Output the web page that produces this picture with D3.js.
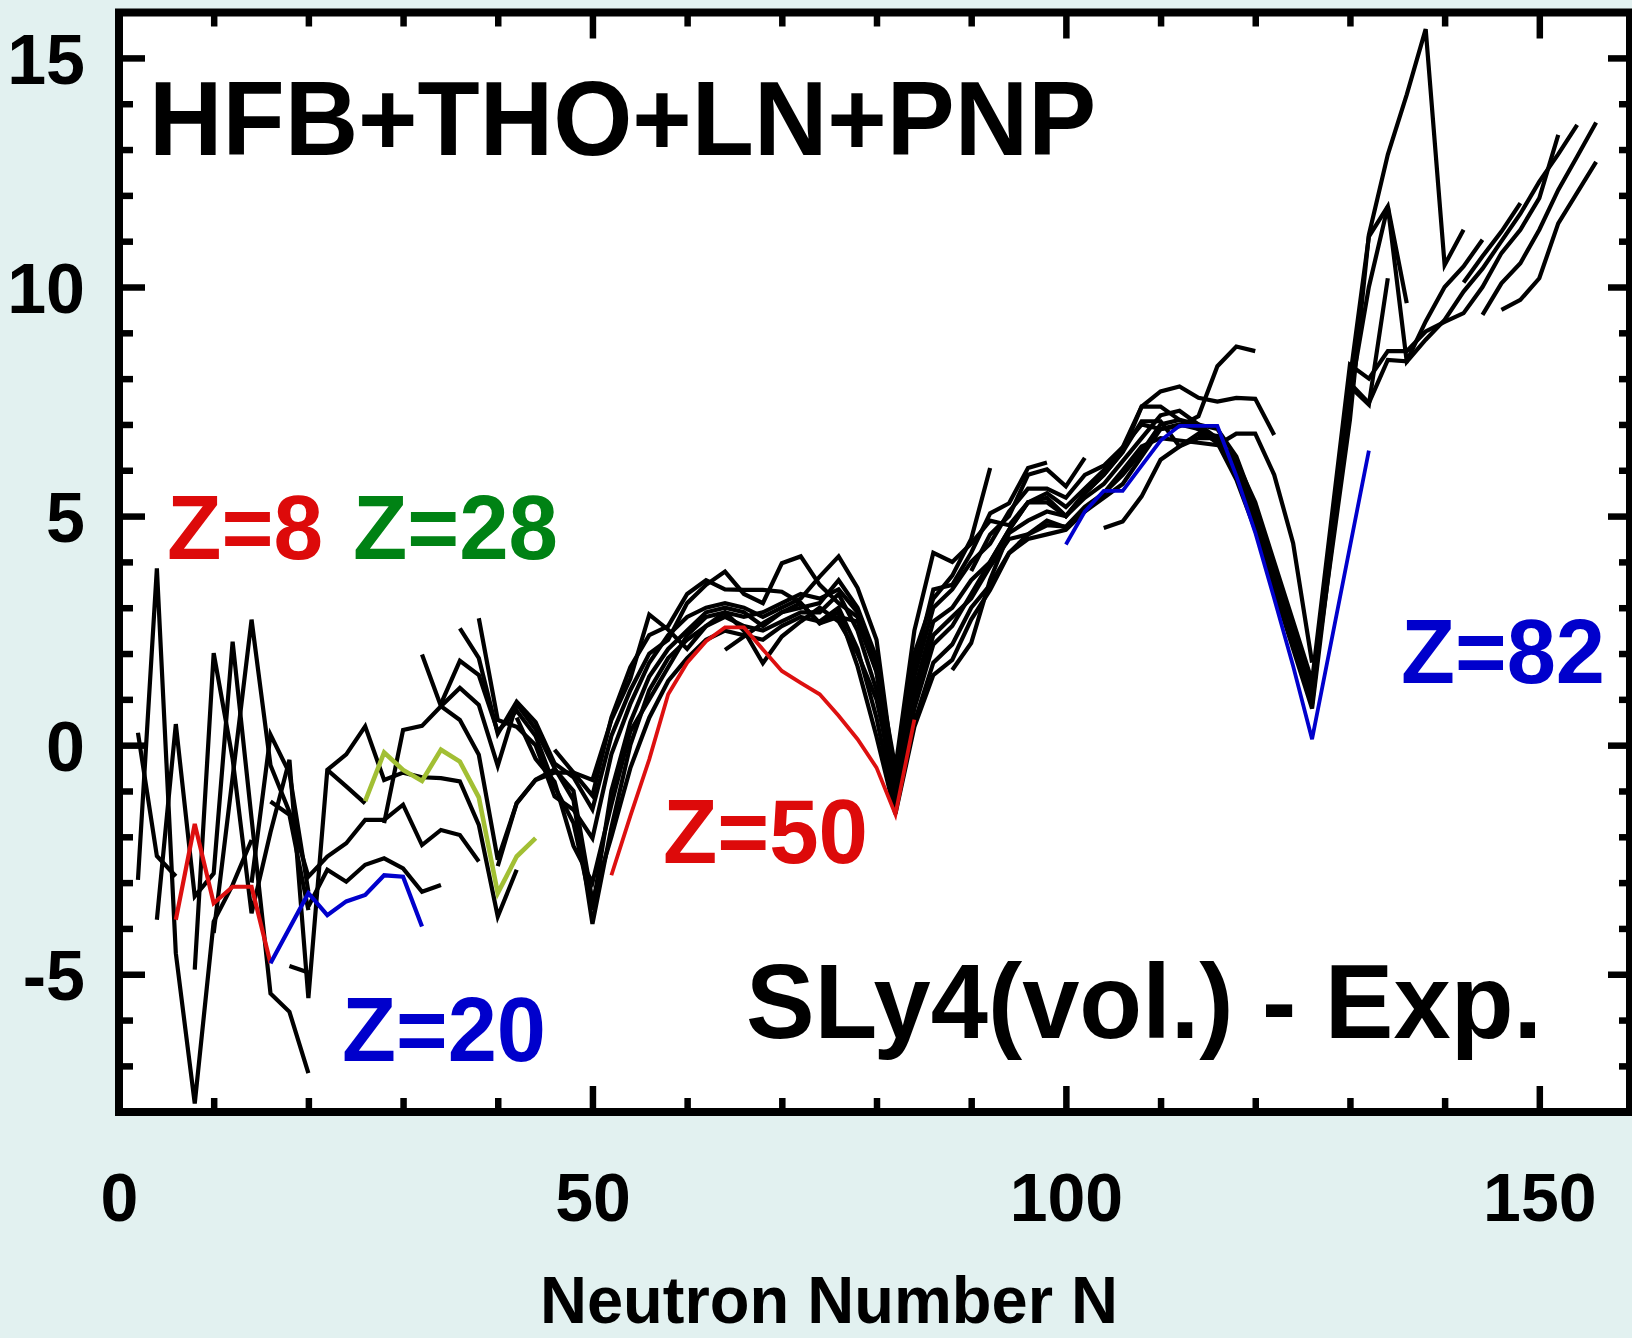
<!DOCTYPE html>
<html>
<head>
<meta charset="utf-8">
<script src="https://cdn.jsdelivr.net/npm/d3@7"></script>
<style>
  html, body { margin: 0; padding: 0; background: #e2f1f0; }
  svg { display: block; }
  text { font-family: "Liberation Sans", Arial, Helvetica, sans-serif; font-weight: bold; }
</style>
</head>
<body>
<svg id="chart" width="1632" height="1338"></svg>
<script>
// ---- Axis ticks ----
const xMajorTicks = [0, 50, 100, 150];
const xMinorTicks = [10, 20, 30, 40, 60, 70, 80, 90, 110, 120, 130, 140];
const yMajorTicks = [-5, 0, 5, 10, 15];
const yMinorTicks = [-8, -7, -6, -4, -3, -2, -1, 1, 2, 3, 4, 6, 7, 8, 9, 11, 12, 13, 14, 16];

// ---- Highlighted isotopic chains: [N, E(SLy4) - E(exp) in MeV] ----
const z8Chain  = [[6,-3.81],[8,-1.72],[10,-3.45],[12,-3.09],[14,-3.09],[16,-4.76]];
const z20Chain = [[16,-4.76],[20,-3.23],[22,-3.71],[24,-3.41],[26,-3.27],[28,-2.84],[30,-2.87],[32,-3.96]];
const z28Chain = [[26,-1.22],[28,-0.16],[30,-0.54],[32,-0.78],[34,-0.1],[36,-0.36],[38,-1.14],[40,-3.23],[42,-2.43],[44,-2.03]];
const z50Chain = [[52,-2.84],[54,-1.55],[56,-0.31],[58,1.11],[60,1.8],[62,2.27],[64,2.57],[66,2.57],[68,2.09],[70,1.62],[72,1.36],[74,1.11],[76,0.64],[78,0.13],[80,-0.49],[82,-1.51],[84,0.56]];
const z82Chain = [[100,4.38],[102,5.1],[104,5.55],[106,5.55],[108,6.1],[110,6.65],[112,6.97],[114,6.97],[116,6.97],[118,5.88],[120,4.64],[122,3.2],[124,1.73],[126,0.13],[132,6.43]];

// ---- Remaining isotopic chains (black) ----
const chainL1 = [[2,0.27],[4,-2.42],[6,-2.86]];
const chainL2 = [[2,-2.94],[4,3.86],[6,-4.54],[8,-7.82],[10,-3.85],[12,-3.05],[14,-2.07]];
const chainL3 = [[4,-3.81],[6,0.46],[8,-3.3],[10,-2.8],[12,2.26],[14,-1.6],[16,-5.42],[18,-5.82],[20,-7.16]];
const chainL4 = [[8,-4.9],[10,2.01],[12,-0.3],[14,-3.67],[16,-1.9],[18,-0.32],[20,-5.52],[22,-0.54],[24,-0.2],[26,0.41],[28,-0.76],[30,-0.6],[32,-0.7],[34,-0.72],[36,-0.79],[38,-1.74],[40,-3.74],[42,-2.72]];
const chainL5 = [[10,-4.1],[12,-0.7],[14,2.74],[16,-0.44],[18,-1.46],[20,-2.87],[22,-2.43],[24,-2.14],[26,-1.63],[28,-1.63],[30,-1.3],[32,-2.18],[34,-1.85],[36,-1.96],[38,-2.54]];
const chainL6 = [[14,-3.0],[16,0.23],[18,-0.61],[20,-3.2]];
const chainL7 = [[16,-1.23],[18,-1.52],[20,-3.6]];
const chainL8 = [[18,-4.82],[20,-4.96]];
const chainL9 = [[20,-3.52],[22,-2.72],[24,-2.98],[26,-2.61],[28,-2.47],[30,-2.69],[32,-3.2],[34,-3.05]];
const chainL10 = [[22,-0.54],[24,-0.9],[26,-1.27]];

const chainM1 = [[32,1.98],[34,0.85],[36,0.55],[38,-0.21],[40,-2.5],[42,-1.27],[44,-0.76],[46,-0.6],[48,-0.6],[50,-0.76],[52,0.55],[54,1.45],[56,2.85],[58,2.52],[60,2.1],[62,2.6],[64,2.9],[66,2.5],[68,1.79],[70,2.37],[72,2.7],[74,3.0],[76,2.7],[78,2.0],[80,1.0],[82,-0.9],[84,1.7],[86,3.4],[88,3.5],[90,4.2],[92,5.06],[94,5.28],[96,6.05],[98,6.17]];
const chainM2 = [[28,-1.7],[30,0.33],[32,0.42],[34,0.85],[36,1.25],[38,0.88],[40,-0.45],[42,0.9],[44,0.35],[46,-0.5],[48,-1.2],[50,-3.9],[52,-1.8],[54,0.0],[56,1.2],[58,1.9],[60,2.3],[62,2.6],[64,2.8],[66,2.6],[68,2.5],[70,2.7],[72,2.9],[74,2.9],[76,3.3],[78,2.5],[80,1.2],[82,-1.3],[84,0.8],[86,2.2],[88,2.6],[90,3.3],[92,4.0],[94,4.7],[96,5.3],[98,5.3],[100,5.0],[102,5.5],[104,5.9],[106,6.4],[108,7.07],[110,7.07],[112,6.52],[114,6.8],[116,6.75],[118,6.0],[120,4.9],[122,3.6],[124,2.2],[126,0.9],[130,8.0],[132,11.1],[134,11.76],[136,9.65]];
const chainM3 = [[34,0.9],[36,1.84],[38,1.53],[40,0.3],[42,0.75],[44,0.2],[46,-0.9],[48,-1.7],[50,-3.6],[52,-1.0],[54,0.5],[56,1.5],[58,2.1],[60,2.5],[62,2.9],[64,3.0],[66,2.9],[68,2.6],[70,2.9],[72,3.0],[74,3.1],[76,3.6],[78,3.0],[80,1.9],[82,-1.1],[84,1.2],[86,2.7],[88,3.0],[90,3.6],[92,4.0],[94,4.7],[96,5.3],[98,5.4],[100,5.0],[102,5.5],[104,5.9],[106,6.4],[108,7.39],[110,7.39],[112,7.1],[114,7.0],[116,6.9],[118,6.3],[120,5.2],[122,3.9],[124,2.5],[126,1.1],[130,7.1],[132,11.14],[134,12.89],[136,14.2],[138,15.63],[140,10.48],[142,11.25]];
const chainM4 = [[36,2.55],[38,1.9],[40,0.25],[42,0.95],[44,0.5],[46,-0.4],[48,-0.7],[50,-1.4],[52,0.2],[54,1.2],[56,2.0],[58,2.3],[60,3.1],[62,3.5],[64,3.79],[66,3.3],[68,3.1],[70,3.97],[72,4.12],[74,3.5],[76,3.1],[78,2.8],[80,1.8],[82,-0.5],[84,2.5],[86,4.2],[88,4.0],[90,4.4],[92,4.9],[94,4.8],[96,5.3],[98,5.5],[100,5.2],[102,5.6],[104,6.0],[106,6.5],[108,7.0],[110,6.9],[112,6.96],[114,7.18],[116,8.27],[118,8.7],[120,8.6]];
const chainM5 = [[38,2.77],[40,0.55],[42,0.4],[44,0.0],[46,-1.12],[48,-1.41],[50,-2.03],[52,-0.2],[54,0.9],[56,1.8],[58,2.4],[60,2.8],[62,3.0],[64,3.1],[66,3.0],[68,2.8],[70,3.0],[72,3.2],[74,3.68],[76,4.12],[78,3.43],[80,2.3],[82,-0.83],[84,1.5],[86,3.0],[88,3.4],[90,4.0],[92,4.4],[94,5.1],[96,5.6],[98,5.6],[100,5.4],[102,5.9],[104,6.1],[106,6.5],[108,7.39],[110,7.72],[112,7.83],[114,7.58],[116,7.5],[118,7.58],[120,7.56],[122,6.77]];
const chainM6 = [[40,-2.64],[42,-1.26],[44,-0.75],[46,-0.53],[48,-1.0],[50,-3.4],[52,-2.0],[54,-0.5],[56,0.6],[58,1.4],[60,1.9],[62,2.3],[64,2.5],[66,2.4],[68,2.3],[70,2.6],[72,2.8],[74,2.7],[76,3.0],[78,2.1],[80,0.6],[82,-1.4],[84,0.5],[86,1.8],[88,2.2],[90,3.0],[92,3.5],[94,4.2],[96,4.6],[98,4.9],[100,4.75],[102,5.1],[104,5.5],[106,5.9],[108,6.4],[110,7.0],[112,7.1],[114,6.9],[116,6.6],[118,6.0],[120,5.0],[122,3.7],[124,2.3],[126,1.0],[130,7.9],[132,7.47],[134,8.41],[136,8.38],[138,9.25],[140,10.0],[142,10.45],[144,11.03]];
const chainM7 = [[42,0.6],[44,-0.3],[46,-0.8],[48,-2.2],[50,-3.0],[52,-1.3],[54,0.3],[56,1.0],[58,1.7],[60,2.4],[62,2.8],[64,2.9],[66,2.8],[68,2.9],[70,3.1],[72,3.3],[74,3.2],[76,3.4],[78,2.9],[80,1.6],[82,-1.0],[84,1.0],[86,2.4],[88,2.8],[90,3.2],[92,3.9],[94,4.5],[96,4.6],[98,4.8],[100,4.77],[102,5.2],[104,5.5],[106,6.0],[108,6.52],[110,6.7],[112,6.65],[114,6.6],[116,6.55],[118,6.8],[120,6.8],[122,5.9],[124,4.41],[126,1.8]];
const chainD3 = [[46,-0.1],[48,-0.6],[50,-1.1],[52,0.6],[54,1.7],[56,2.4],[58,2.6],[60,3.3],[62,3.6],[64,3.4],[66,3.39],[68,3.39],[70,3.35],[72,3.1],[74,2.66],[76,2.8],[78,2.7],[80,1.6],[82,-0.8],[84,2.0],[86,3.2],[88,3.7],[90,4.5],[92,6.05]];
const chainD9 = [[64,2.08],[66,2.37],[68,2.66],[70,2.9],[72,3.1],[74,2.66],[76,2.9],[78,1.72],[80,0.19],[82,-1.5],[84,0.4],[86,1.53],[88,1.86],[90,2.74],[92,3.39],[94,4.19],[96,4.5],[98,4.6],[100,4.7],[102,5.1],[104,5.4],[106,5.7],[108,6.3],[110,6.9],[112,7.0],[114,6.9],[116,6.6],[118,5.8],[120,4.7],[122,3.4],[124,2.1],[126,0.8],[130,7.6],[132,10.0],[134,11.76],[136,8.37],[138,8.85],[140,9.28],[142,9.9],[144,10.4],[146,11.0],[148,11.6],[150,12.3],[152,12.9],[154,13.54]];
const chainH4 = [[90,3.8],[92,4.6],[94,5.0],[96,5.9],[98,6.02],[100,5.65],[102,6.27]];
const chainH10 = [[104,4.74],[106,4.88],[108,5.43],[110,6.23],[112,6.52],[114,6.7],[116,6.7],[118,6.1],[120,5.0],[122,3.8],[124,2.5],[126,1.2],[130,7.83],[132,7.43],[134,10.19]];
const chainH11 = [[88,1.64],[90,2.23],[92,3.61],[94,4.63],[96,4.9],[98,5.1],[100,5.0],[102,5.4],[104,5.7],[106,6.2],[108,6.7],[110,7.2],[112,7.3],[114,7.0],[116,6.7],[118,6.2],[120,5.3],[122,4.0],[124,2.7],[126,1.4],[130,8.3],[132,8.0],[134,8.6],[136,8.6],[138,9.03],[140,9.24],[142,9.43],[144,10.0],[146,10.74],[148,11.25],[150,11.94],[152,13.32]];
const chainR7 = [[144,9.39],[146,10.08],[148,10.52],[150,11.25],[152,12.12],[154,12.85],[156,13.59]];
const chainR8 = [[146,9.5],[148,9.72],[150,10.19],[152,11.39],[156,12.73]];
const chainR9 = [[142,10.1],[144,10.67],[146,11.21],[148,11.83]];

const blackChains = [chainL1, chainL2, chainL3, chainL4, chainL5, chainL6, chainL7, chainL8, chainL9, chainL10,
  chainM1, chainM2, chainM3, chainM4, chainM5, chainM6, chainM7, chainD3, chainD9,
  chainH4, chainH10, chainH11, chainR7, chainR8, chainR9];

// ---- Layout ----
const svg = d3.select('#chart');
const frame = { left: 119, right: 1630, top: 12.5, bottom: 1112 };
const x = d3.scaleLinear().domain([0, 160]).range([119, 1634]);
const y = d3.scaleLinear().domain([-8, 16]).range([1111.7, 12.1]);

svg.append('rect').attr('width', 1632).attr('height', 1338).attr('fill', '#e2f1f0');
svg.append('rect')
  .attr('x', frame.left).attr('y', frame.top)
  .attr('width', frame.right - frame.left).attr('height', frame.bottom - frame.top)
  .attr('fill', '#ffffff');

svg.append('clipPath').attr('id', 'plotClip')
  .append('rect')
  .attr('x', frame.left).attr('y', frame.top)
  .attr('width', frame.right - frame.left).attr('height', frame.bottom - frame.top);

const line = d3.line().x(d => x(d[0])).y(d => y(d[1]));
const plot = svg.append('g').attr('clip-path', 'url(#plotClip)');

plot.selectAll('path.chain')
  .data(blackChains)
  .join('path')
  .attr('class', 'chain')
  .attr('d', line)
  .attr('fill', 'none')
  .attr('stroke', '#000')
  .attr('stroke-width', 4.2)
  .attr('stroke-linejoin', 'miter');

const coloured = [
  { data: z28Chain, color: '#a2bf34', width: 4.6 },
  { data: z8Chain,  color: '#dd1010', width: 4.2 },
  { data: z20Chain, color: '#0000cc', width: 4.2 },
  { data: z50Chain, color: '#dd1010', width: 3.8 },
  { data: z82Chain, color: '#0000cc', width: 3.8 }
];
plot.selectAll('path.magic')
  .data(coloured)
  .join('path')
  .attr('class', 'magic')
  .attr('d', d => line(d.data))
  .attr('fill', 'none')
  .attr('stroke', d => d.color)
  .attr('stroke-width', d => d.width)
  .attr('stroke-linejoin', 'miter');

// ---- Axes (ticks point inward on all four sides) ----
function styleAxis(g, fontSize) {
  g.select('.domain').remove();
  g.selectAll('.tick line').attr('stroke', '#000').attr('stroke-width', 6.5);
  g.attr('font-family', '"Liberation Sans", Arial, Helvetica, sans-serif')
   .attr('font-size', fontSize || 10)
   .attr('font-weight', 'bold');
  g.selectAll('.tick text').attr('fill', '#000');
}
const plainNumber = d => String(d);

svg.append('g').attr('transform', `translate(0,${frame.bottom})`)
  .call(d3.axisBottom(x).tickValues(xMajorTicks).tickSize(-26).tickPadding(61).tickFormat(plainNumber))
  .call(g => styleAxis(g, 68));
svg.append('g').attr('transform', `translate(0,${frame.bottom})`)
  .call(d3.axisBottom(x).tickValues(xMinorTicks).tickSize(-14).tickFormat(''))
  .call(g => styleAxis(g));
svg.append('g').attr('transform', `translate(0,${frame.top})`)
  .call(d3.axisTop(x).tickValues(xMajorTicks).tickSize(-26).tickFormat(''))
  .call(g => styleAxis(g));
svg.append('g').attr('transform', `translate(0,${frame.top})`)
  .call(d3.axisTop(x).tickValues(xMinorTicks).tickSize(-14).tickFormat(''))
  .call(g => styleAxis(g));

svg.append('g').attr('transform', `translate(${frame.left},0)`)
  .call(d3.axisLeft(y).tickValues(yMajorTicks).tickSize(-26).tickPadding(34).tickFormat(plainNumber))
  .call(g => { styleAxis(g, 70); g.selectAll('.tick text').attr('dy', '0.36em'); });
svg.append('g').attr('transform', `translate(${frame.left},0)`)
  .call(d3.axisLeft(y).tickValues(yMinorTicks).tickSize(-14).tickFormat(''))
  .call(g => styleAxis(g));
svg.append('g').attr('transform', `translate(${frame.right},0)`)
  .call(d3.axisRight(y).tickValues(yMajorTicks).tickSize(-22).tickFormat(''))
  .call(g => styleAxis(g));
svg.append('g').attr('transform', `translate(${frame.right},0)`)
  .call(d3.axisRight(y).tickValues(yMinorTicks).tickSize(-11).tickFormat(''))
  .call(g => styleAxis(g));

// Plot frame
svg.append('rect')
  .attr('x', frame.left).attr('y', frame.top)
  .attr('width', frame.right - frame.left).attr('height', frame.bottom - frame.top)
  .attr('fill', 'none').attr('stroke', '#000').attr('stroke-width', 8);

// ---- Text annotations ----
function label(txt, px, py, size, color, len) {
  const t = svg.append('text')
    .attr('x', px).attr('y', py)
    .attr('font-size', size)
    .attr('fill', color)
    .text(txt);
  if (len) t.attr('textLength', len).attr('lengthAdjust', 'spacingAndGlyphs');
  return t;
}
label('HFB+THO+LN+PNP', 149, 155, 105, '#000', 947);
label('SLy4(vol.) - Exp.', 746, 1038, 105, '#000', 796);
label('Z=8', 167, 559, 90, '#dd0a0a', 156);
label('Z=28', 353, 559, 90, '#008214', 205);
label('Z=20', 342, 1061, 91, '#0000cc', 204);
label('Z=50', 663, 863, 91, '#dd0a0a', 205);
label('Z=82', 1401, 683, 91, '#0000cc', 204);

svg.append('text')
  .attr('x', 829).attr('y', 1323)
  .attr('text-anchor', 'middle')
  .attr('font-size', 66)
  .attr('fill', '#000')
  .attr('textLength', 578).attr('lengthAdjust', 'spacingAndGlyphs')
  .text('Neutron Number N');
</script>
</body>
</html>
